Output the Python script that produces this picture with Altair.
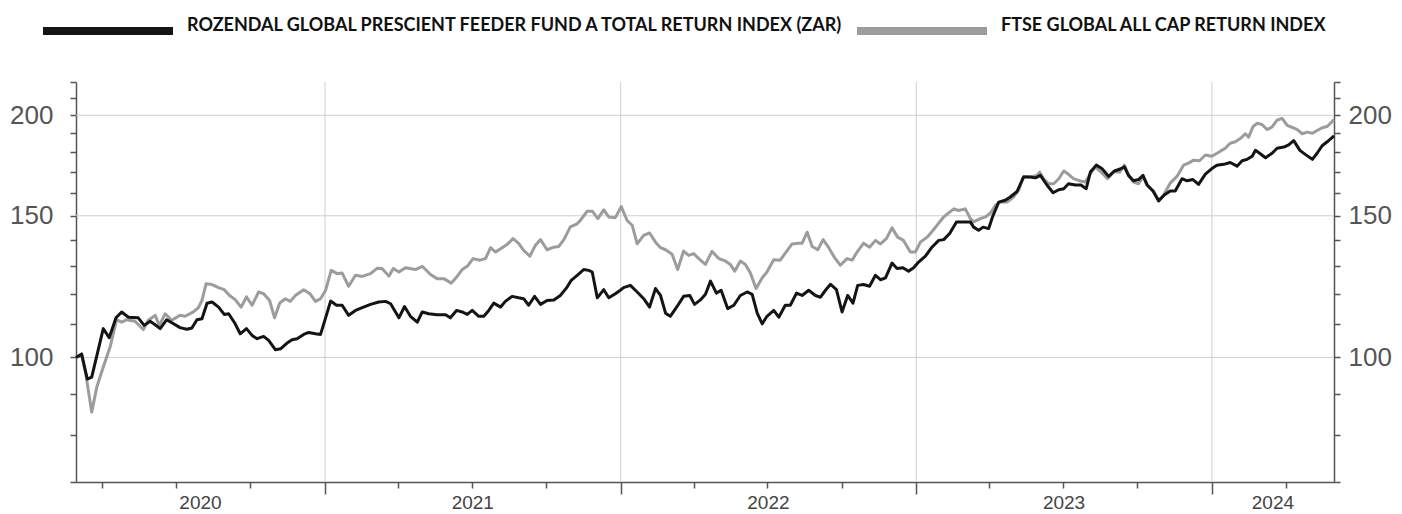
import altair as alt
import pandas as pd

FUND = "ROZENDAL GLOBAL PRESCIENT FEEDER FUND A TOTAL RETURN INDEX (ZAR)"
FTSE = "FTSE GLOBAL ALL CAP RETURN INDEX"

# time points as decimal years, values as index levels
fund_t = [
    2020.160, 2020.179, 2020.198, 2020.213, 2020.252, 2020.272, 2020.295, 2020.314, 2020.337, 2020.370,
    2020.390, 2020.410, 2020.427, 2020.444, 2020.466, 2020.489, 2020.511, 2020.534, 2020.551, 2020.568,
    2020.585, 2020.602, 2020.619, 2020.641, 2020.660, 2020.675, 2020.697, 2020.714, 2020.735, 2020.754,
    2020.771, 2020.793, 2020.810, 2020.833, 2020.850, 2020.872, 2020.889, 2020.906, 2020.928, 2020.945,
    2020.968, 2020.985,
    2021.002, 2021.019, 2021.039, 2021.058, 2021.080, 2021.103, 2021.126, 2021.154, 2021.182, 2021.205,
    2021.222, 2021.250, 2021.269, 2021.289, 2021.312, 2021.329, 2021.351, 2021.379, 2021.408, 2021.424,
    2021.445, 2021.464, 2021.481, 2021.498, 2021.520, 2021.537, 2021.554, 2021.571, 2021.594, 2021.610,
    2021.633, 2021.655, 2021.672, 2021.689, 2021.709, 2021.729, 2021.751, 2021.774, 2021.796, 2021.819,
    2021.833, 2021.853, 2021.875, 2021.892, 2021.904, 2021.921, 2021.943, 2021.960, 2021.982, 2021.999,
    2022.010, 2022.033, 2022.056, 2022.078, 2022.098, 2022.118, 2022.135, 2022.152, 2022.168, 2022.191,
    2022.213, 2022.234, 2022.250, 2022.270, 2022.287, 2022.304, 2022.324, 2022.340, 2022.362, 2022.383,
    2022.405, 2022.428, 2022.445, 2022.462, 2022.479, 2022.495, 2022.518, 2022.535, 2022.557, 2022.574,
    2022.595, 2022.614, 2022.636, 2022.659, 2022.676, 2022.693, 2022.710, 2022.730, 2022.749, 2022.768,
    2022.786, 2022.802, 2022.822, 2022.842, 2022.862, 2022.879, 2022.896, 2022.918, 2022.935, 2022.955,
    2022.974, 2022.991,
    2023.008, 2023.031, 2023.053, 2023.076, 2023.093, 2023.113, 2023.136, 2023.160, 2023.183, 2023.194,
    2023.211, 2023.226, 2023.245, 2023.260, 2023.279, 2023.301, 2023.318, 2023.341, 2023.363, 2023.386,
    2023.403, 2023.420, 2023.442, 2023.463, 2023.482, 2023.499, 2023.515, 2023.538, 2023.557, 2023.575,
    2023.589, 2023.609, 2023.628, 2023.651, 2023.670, 2023.690, 2023.704, 2023.718, 2023.735, 2023.752,
    2023.767, 2023.781, 2023.801, 2023.820, 2023.839, 2023.859, 2023.876, 2023.899, 2023.916, 2023.936,
    2023.955, 2023.978,
    2024.000, 2024.017, 2024.040, 2024.062, 2024.085, 2024.102, 2024.119, 2024.136, 2024.147, 2024.161,
    2024.181, 2024.203, 2024.220, 2024.243, 2024.259, 2024.276, 2024.297, 2024.316, 2024.339, 2024.355,
    2024.372, 2024.389, 2024.412,
]
fund_v = [
    100, 101, 94, 94.5, 108.6, 105.8, 112, 113.9, 112.2, 112,
    109.6, 110.9, 109.8, 108.6, 111.4, 110.1, 108.9, 108.4, 108.8, 111.4,
    111.7, 116.8, 117.2, 115.5, 113.1, 113.3, 110.1, 107.0, 108.6, 106.5,
    105.5, 106.2, 105.0, 102.2, 102.5, 104.2, 105.2, 105.5, 106.8, 107.4,
    107.0, 106.8,
    112, 117.5, 116.1, 116.1, 112.8, 114.4, 115.3, 116.4, 117.2, 117.4,
    116.6, 112.0, 115.7, 112.5, 110.6, 113.9, 113.3, 113.0, 113.0, 112.0,
    114.4, 113.9, 113.1, 114.4, 112.5, 112.5, 114.4, 116.8, 115.5, 117.4,
    119.1, 118.6, 118.3, 116.1, 119.1, 116.4, 117.7, 117.9, 119.4, 122.3,
    124.7, 126.5, 128.6, 128.3, 127.7, 118.6, 121.4, 118.6, 120.0, 121.2,
    122.1, 122.9, 120.6, 118.3, 115.5, 121.8, 119.4, 113.5, 112.5, 115.7,
    119.1, 119.4, 116.4, 117.9, 119.8, 124.4, 120.2, 121.2, 115.0, 116.1,
    119.4, 120.6, 119.8, 113.5, 110.1, 112.5, 114.4, 112.2, 116.1, 116.1,
    120.2, 119.4, 121.2, 119.4, 118.8, 121.2, 123.3, 121.4, 113.9, 119.4,
    116.8, 122.9, 123.2, 122.6, 126.5, 124.9, 125.6, 131.0, 129.0, 129.3,
    128.0, 129.3,
    131.4, 133.6, 137.1, 139.8, 140.1, 142.6, 147.4, 147.4, 147.4, 145.2,
    143.9, 145.2, 144.6, 150.2, 156.0, 156.8, 158.3, 160.8, 167.6, 167.6,
    167.2, 168.4, 163.8, 160.2, 161.6, 162.1, 164.4, 163.8, 163.8, 162.1,
    170.0, 173.4, 171.7, 167.9, 170.5, 171.5, 172.6, 168.4, 165.8, 166.4,
    168.4, 163.8, 161.0, 156.5, 159.2, 161.0, 161.0, 166.8, 165.8, 166.4,
    164.1, 169.0,
    171.7, 173.4, 173.8, 174.7, 172.9, 175.6, 176.3, 177.9, 180.9, 179.4,
    177.1, 179.4, 182.0, 182.6, 183.8, 186.0, 180.9, 178.7, 176.3, 179.4,
    183.3, 185.4, 188.5,
]

ftse_t = [
    2020.160, 2020.179, 2020.193, 2020.213, 2020.230, 2020.252, 2020.275, 2020.297, 2020.314, 2020.331,
    2020.359, 2020.387, 2020.404, 2020.427, 2020.441, 2020.461, 2020.483, 2020.511, 2020.528, 2020.556,
    2020.573, 2020.585, 2020.599, 2020.619, 2020.641, 2020.660, 2020.678, 2020.697, 2020.717, 2020.735,
    2020.754, 2020.776, 2020.793, 2020.813, 2020.830, 2020.847, 2020.866, 2020.883, 2020.900, 2020.928,
    2020.949, 2020.968, 2020.985,
    2021.002, 2021.021, 2021.041, 2021.058, 2021.080, 2021.103, 2021.126, 2021.154, 2021.177, 2021.193,
    2021.216, 2021.231, 2021.250, 2021.272, 2021.306, 2021.329, 2021.357, 2021.379, 2021.402, 2021.427,
    2021.447, 2021.464, 2021.481, 2021.501, 2021.524, 2021.543, 2021.560, 2021.577, 2021.599, 2021.616,
    2021.636, 2021.655, 2021.672, 2021.693, 2021.712, 2021.729, 2021.751, 2021.774, 2021.791, 2021.808,
    2021.830, 2021.853, 2021.864, 2021.887, 2021.904, 2021.923, 2021.943, 2021.960, 2021.982,
    2022.002, 2022.022, 2022.039, 2022.056, 2022.078, 2022.098, 2022.118, 2022.135, 2022.152, 2022.174,
    2022.193, 2022.213, 2022.230, 2022.247, 2022.268, 2022.287, 2022.309, 2022.332, 2022.354, 2022.371,
    2022.386, 2022.405, 2022.422, 2022.439, 2022.458, 2022.479, 2022.495, 2022.518, 2022.540, 2022.557,
    2022.580, 2022.602, 2022.614, 2022.631, 2022.648, 2022.667, 2022.685, 2022.704, 2022.723, 2022.743,
    2022.766, 2022.783, 2022.802, 2022.822, 2022.842, 2022.862, 2022.879, 2022.899, 2022.918, 2022.937,
    2022.957, 2022.980, 2022.997,
    2023.014, 2023.037, 2023.057, 2023.076, 2023.093, 2023.113, 2023.127, 2023.143, 2023.166, 2023.183,
    2023.194, 2023.217, 2023.234, 2023.251, 2023.268, 2023.284, 2023.307, 2023.329, 2023.346, 2023.363,
    2023.386, 2023.409, 2023.417, 2023.431, 2023.448, 2023.465, 2023.482, 2023.499, 2023.515, 2023.532,
    2023.555, 2023.572, 2023.589, 2023.606, 2023.625, 2023.647, 2023.668, 2023.688, 2023.704, 2023.718,
    2023.735, 2023.752, 2023.767, 2023.786, 2023.803, 2023.820, 2023.837, 2023.859, 2023.882, 2023.904,
    2023.921, 2023.938, 2023.958, 2023.978,
    2024.000, 2024.023, 2024.045, 2024.062, 2024.079, 2024.096, 2024.113, 2024.124, 2024.139, 2024.153,
    2024.169, 2024.186, 2024.203, 2024.220, 2024.237, 2024.254, 2024.274, 2024.288, 2024.305, 2024.322,
    2024.339, 2024.355, 2024.372, 2024.389, 2024.412,
]
ftse_v = [
    100, 100.6, 95.4, 85.5, 91.8, 97.3, 103, 111.4, 110.6, 111.4,
    110.9, 108.3, 111.2, 112.8, 109.6, 113.3, 111.2, 112.8, 112.5, 113.9,
    115.3, 117.7, 123.5, 123.2, 122.1, 121.4, 119.4, 118.0, 115.5, 118.9,
    116.1, 120.6, 120.0, 117.7, 112.0, 116.8, 118.3, 117.4, 119.4, 121.4,
    120.0, 117.4, 118.3,
    121.2, 128.3, 127.1, 127.3, 122.6, 126.5, 126.1, 127.1, 129.1, 129.0,
    126.2, 129.0, 127.7, 129.3, 128.6, 129.8, 126.8, 125.3, 125.3, 123.7,
    126.1, 128.6, 129.8, 132.7, 132.1, 132.7, 136.9, 135.2, 136.9, 138.2,
    140.5, 138.6, 135.9, 133.6, 137.9, 140.1, 136.1, 137.1, 137.4, 140.1,
    145.3, 146.6, 148.1, 152.0, 152.0, 148.8, 152.6, 149.5, 149.2,
    154.0, 148.0, 146.0, 138.4, 141.8, 142.8, 139.1, 136.9, 136.1, 134.4,
    128.6, 135.6, 133.9, 134.6, 132.3, 130.5, 135.5, 132.7, 131.8, 130.5,
    128.0, 131.8, 130.5, 127.3, 121.8, 125.6, 127.7, 132.3, 132.1, 134.8,
    138.4, 138.7, 138.7, 143.1, 137.4, 136.1, 140.1, 136.9, 133.2, 130.2,
    132.7, 132.1, 135.6, 138.7, 137.1, 139.8, 138.4, 140.5, 144.9, 141.1,
    139.8, 135.2, 135.2,
    139.1, 141.1, 143.9, 146.9, 149.5, 151.6, 153.0, 152.3, 153.0, 148.8,
    147.4, 148.8, 149.5, 151.2, 154.6, 156.0, 156.0, 158.3, 161.3, 167.9,
    167.6, 168.4, 170.0, 166.8, 164.4, 164.4, 166.8, 170.5, 168.9, 166.8,
    165.7, 165.2, 169.2, 172.6, 170.0, 166.8, 170.0, 170.0, 173.4, 168.4,
    165.2, 164.4, 167.6, 162.9, 160.8, 156.8, 159.2, 164.7, 167.9, 173.4,
    174.4, 175.9, 175.6, 178.5,
    177.9, 179.9, 182.0, 184.6, 185.4, 187.1, 189.7, 187.9, 193.7, 195.5,
    194.8, 192.0, 193.4, 197.2, 198.2, 194.3, 193.0, 192.0, 189.7, 190.6,
    190.0, 191.5, 193.0, 193.7, 197.5,
]

years = [2020, 2021, 2022, 2023, 2024]
y_ticks = [70, 80, 90, 100, 110, 120, 130, 140, 150, 160, 170, 180, 190, 200, 210, 220]
y_labels = [100, 150, 200]

FMT = "%Y-%m-%dT%H:%M:%S"


def to_date(t):
    y = int(t)
    a = pd.Timestamp(year=y, month=1, day=1)
    b = pd.Timestamp(year=y + 1, month=1, day=1)
    return a + (t - y) * (b - a)


n_f = min(len(fund_t), len(fund_v))
n_g = min(len(ftse_t), len(ftse_v))
fund_df = pd.DataFrame({
    "date": [to_date(t).strftime(FMT) for t in fund_t[:n_f]],
    "value": fund_v[:n_f], "series": FUND})
ftse_df = pd.DataFrame({
    "date": [to_date(t).strftime(FMT) for t in ftse_t[:n_g]],
    "value": ftse_v[:n_g], "series": FTSE})

start = to_date(min(fund_t[0], ftse_t[0]))
end = to_date(max(fund_t[n_f - 1], ftse_t[n_g - 1]))

quarters = pd.date_range(start=start, end=end, freq="QS")
q_values = [alt.DateTime(year=int(d.year), month=int(d.month), date=1) for d in quarters]

bounds = [pd.Timestamp(year=y, month=1, day=1) for y in years
          if start < pd.Timestamp(year=y, month=1, day=1) < end]
bound_df = pd.DataFrame({"date": [b.strftime(FMT) for b in bounds]})

mids = []
for y in years:
    a = max(start, pd.Timestamp(year=y, month=1, day=1))
    b = min(end, pd.Timestamp(year=y + 1, month=1, day=1))
    mids.append((a + (b - a) / 2).strftime(FMT))
label_df = pd.DataFrame({"date": mids, "label": [str(y) for y in years]})
hgrid_df = pd.DataFrame({"value": y_labels})

AX = "#555555"
GRID = "#cfcfcf"
W, H = 1258, 400
SANS = "Liberation Sans"

yscale = alt.Scale(type="log", domain=[70, 220], nice=False)
xscale = alt.Scale(type="time")
color_scale = alt.Scale(domain=[FUND, FTSE], range=["#141414", "#9c9c9c"])

legend = alt.Legend(
    orient="none", legendX=-37, legendY=-120, direction="horizontal", title=None,
    symbolType="stroke", symbolSize=16900, symbolStrokeWidth=8, symbolOpacity=1,
    labelFont="Lato", labelFontWeight="bold", labelFontSize=18, labelColor="#111111",
    labelBaseline="alphabetic",
    labelLimit=1000, labelOffset=10, columnPadding=-5, padding=0,
)

label_expr = " || ".join(f"datum.value == {v}" for v in y_labels)


def y_axis(orient, pad):
    return alt.Axis(
        orient=orient, values=y_ticks, labelExpr=f"({label_expr}) ? datum.label : ''",
        format="d", grid=False, title=None, tickSize=6, tickWidth=1.5, tickColor=AX,
        domainColor=AX, domainWidth=1.5, labelFont=SANS, labelFontSize=26,
        labelColor=AX, labelPadding=pad,
    )


x_axis = alt.Axis(
    values=q_values, labels=False, grid=False, title=None, domainColor=AX, domainWidth=1.5,
    tickColor=AX, tickWidth=1.5,
    tickSize={"condition": {"test": "month(datum.value) == 0", "value": 12}, "value": 6},
)

vgrid = alt.Chart(bound_df).mark_rule(color=GRID, strokeWidth=1).encode(
    x=alt.X("date:T", scale=xscale, axis=None))
hgrid = alt.Chart(hgrid_df).mark_rule(color=GRID, strokeWidth=1).encode(
    y=alt.Y("value:Q", scale=yscale, axis=None))

ftse_line = alt.Chart(ftse_df).mark_line(strokeWidth=3, strokeJoin="round").encode(
    x=alt.X("date:T", scale=xscale, axis=x_axis),
    y=alt.Y("value:Q", scale=yscale, axis=y_axis("left", 17)),
    color=alt.Color("series:N", scale=color_scale, legend=legend),
)
fund_line = alt.Chart(fund_df).mark_line(strokeWidth=3, strokeJoin="round").encode(
    x=alt.X("date:T", scale=xscale, axis=None),
    y=alt.Y("value:Q", scale=yscale, axis=y_axis("right", 8)),
    color=alt.Color("series:N", scale=color_scale, legend=legend),
)
year_text = alt.Chart(label_df).mark_text(
    font=SANS, fontSize=19, color="#444444", baseline="middle", align="center"
).encode(
    x=alt.X("date:T", scale=xscale, axis=None),
    y=alt.value(H + 21),
    text="label:N",
)

chart = alt.layer(vgrid, hgrid, ftse_line, fund_line, year_text).resolve_axis(
    x="independent", y="independent"
).properties(
    width=W, height=H,
    autosize=alt.AutoSizeParams(type="none"),
    padding={"left": 68, "top": 74, "right": 60, "bottom": 30},
).configure_view(stroke=None)

chart.save("out.html", embed_options={"renderer": "svg", "actions": False})
